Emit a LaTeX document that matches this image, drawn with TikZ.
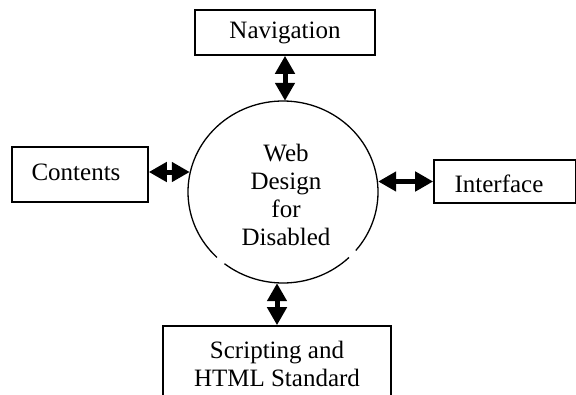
\documentclass[tikz,border=0pt]{standalone}
\usepackage{fontspec}
\setmainfont{Liberation Serif}
\usetikzlibrary{arrows.meta,shapes.geometric,calc}
\begin{document}
\begin{tikzpicture}[x=1pt,y=-1pt,
  box/.style={draw,line width=1.6pt,rectangle,inner sep=0pt,font=\fontsize{25}{28}\selectfont,align=center},
  dar/.style={line width=5pt,{Triangle[length=18pt,width=19pt]}-{Triangle[length=18pt,width=19pt]}},
  lbl/.style={font=\fontsize{25}{28}\selectfont,align=center}]
\clip (0,0) rectangle (576,394);
\useasboundingbox (0,0) rectangle (576,394);
\node[box,minimum width=180pt,minimum height=45pt] (nav) at (285,32.5) {Navigation};
\node[box,minimum width=136pt,minimum height=55pt] (cont) at (80,174.5) {};
\node[lbl] (contt) at (76,172) {Contents};
\node[box,minimum width=142pt,minimum height=43pt] (inter) at (505,181.5) {};
\node[lbl] (intert) at (499,184) {Interface};
\node[box,minimum width=228pt,minimum height=84pt] (scr) at (277,368) {};
\node[lbl,anchor=north] (scrt) at (277,338) {Scripting and\\HTML Standard};
\node[ellipse,minimum width=190pt,minimum height=182pt,inner sep=0pt] (c) at (283,192) {};
\node[lbl] (ct) at (286,195) {Web\\Design\\for\\Disabled};
\draw[line width=1.3pt] ($(c.center)+(232:95pt and 91pt)$) arc[start angle=232,end angle=314,x radius=95pt,y radius=91pt];
\draw[line width=1.3pt] ($(c.center)+(320:95pt and 91pt)$) arc[start angle=320,end angle=586,x radius=95pt,y radius=91pt];
\draw[dar] (nav.south) -- (nav.south |- c.north);
\draw[dar] (cont.east |- contt) -- ($(c.west |- contt)+(2,0)$);
\draw[dar] (inter.west -| c.east) -- (inter.west);
\draw[dar] (scr.north |- c.south) -- (scr.north);
\end{tikzpicture}
\end{document}
